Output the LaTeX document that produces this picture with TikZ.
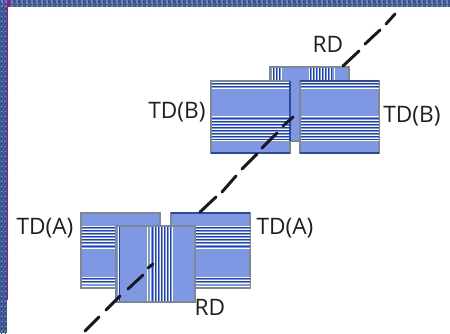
\documentclass[tikz,border=0pt]{standalone}
\usepackage{fontspec}
\setmainfont{Open Sans}
\definecolor{plate}{HTML}{7F98E4}
\definecolor{edgegray}{HTML}{7F8790}
\definecolor{edgeblue}{HTML}{2F4A9A}
\definecolor{stripeblue}{HTML}{1A3AD0}
\definecolor{tilebase}{HTML}{3F5C98}
\definecolor{tiledark}{HTML}{1F3566}
\definecolor{tilelight}{HTML}{6C84B4}
\definecolor{seam}{HTML}{A0109A}
\tikzset{
  x=0.75pt,y=-0.75pt,
  plate/.style={fill=plate,draw=edgegray,line width=0.8pt},
  rim/.style={draw=edgeblue,line width=0.8pt},
  tag/.style={font=\fontsize{17}{20}\selectfont,inner sep=0pt,text=black!88},
  axisdash/.style={line width=2.2pt,black!90,line cap=round},
}
% horizontal lines across a plate: #1 x-from, #2 x-to, #3 blue rows, #4 white rows
\newcommand{\hrows}[4]{%
  \foreach \r in {#4}{\fill[white] (#1,\r) rectangle (#2,\r+0.9);}
  \foreach \r in {#3}{\fill[stripeblue] (#1,\r) rectangle (#2,\r+1.2);}
}
% vertical lines across a plate: #1 y-from, #2 y-to, #3 blue columns, #4 white columns
\newcommand{\vrows}[4]{%
  \foreach \c in {#4}{\fill[white] (\c,#1) rectangle (\c+0.9,#2);}
  \foreach \c in {#3}{\fill[stripeblue] (\c,#1) rectangle (\c+1.2,#2);}
}
\begin{document}
\begin{tikzpicture}
\useasboundingbox (0,0) rectangle (450,333);
\fill[white] (0,0) rectangle (450,333);

% woven border along the top and left sides
\fill[tilebase] (0,0) rectangle (450,7);
\fill[tilebase] (0,0) rectangle (7,333);
\foreach \i in {0,...,89}{
  \fill[tilelight] (\i*5+1,0) rectangle (\i*5+3,7);
  \fill[tiledark] (\i*5+3,1) rectangle (\i*5+4,2);
  \fill[tiledark] (\i*5+1,4) rectangle (\i*5+2,5);
}
\foreach \i in {0,...,66}{
  \fill[tilelight] (1,\i*5+1) rectangle (6,\i*5+2);
  \fill[tiledark] (3,\i*5+1) rectangle (4,\i*5+2);
  \fill[tiledark] (1,\i*5+3) rectangle (2,\i*5+4);
  \fill[tiledark] (5,\i*5+3) rectangle (6,\i*5+4);
}
\fill[seam] (7,0) rectangle (10,7);
\fill[seam] (7,7) rectangle (8,300);

% upper pair: read-out plate behind two transfer plates
\draw[plate] (270,67) rectangle (349,141);
\vrows{68}{81}{273,276,279,310,313,316,319,322,325,328,331}{272,275,278,281,309,312,315,318,321,324,327,330,334}
\draw[plate] (211,81) rectangle (290,153);
\hrows{212}{290}{83,86,118,121,124,127,130,133,136,139}{82,85,88,116,120,123,126,129,132,135,138,140}
\draw[rim] (211,153) -- (290,153) (290,81) -- (290,141);
\draw[plate] (300,81) rectangle (379,153);
\hrows{301}{379}{83,86,118,121,124,127,130,133,136,139}{82,85,88,116,120,123,126,129,132,135,138,140}
\draw[rim] (300,153) -- (379,153) (300,81) -- (379,81);

% lower pair: two transfer plates behind the read-out plate
\draw[plate] (81,213) rectangle (160,288);
\hrows{82}{160}{227,230,233,236,239,242,246,278,281}{226,229,232,235,238,241,244,248,277,280,283,286}
\draw[plate] (171,213) rectangle (250,288);
\hrows{172}{250}{227,230,233,236,239,242,246,278,281}{226,229,232,235,238,241,244,248,277,280,283,286}
\draw[rim] (171,213) -- (250,213);
\draw[plate] (116,226) rectangle (195,302);
\vrows{227}{301}{119,152,155,158,161,164,167,170}{118,147,150,154,157,160,163,166,169,172}

% dashed axis through both pairs
\foreach \ax/\ay/\bx/\by in {85/331/99/317,106/310/120/296,128/289/143/275,148/268/153/264,
  200/212/216/197,222/192/236/176,242/169/257/154,262/148/277/133,283/126/293/117,
  343/66/359/51,365/44/380/30,386/24/395/14}{
  \coordinate (p) at (\ax,\ay);
  \coordinate (q) at (\bx,\by);
  \draw[axisdash] (p) -- (q);
}

% plate labels
\node[tag] (rdb) at (328,44) {RD};
\node[tag] (tdbl) at (177,112) {TD(B)};
\node[tag] (tdbr) at (412,116) {TD(B)};
\node[tag] (tdal) at (45,228) {TD(A)};
\node[tag] (tdar) at (285,228) {TD(A)};
\node[tag] (rda) at (210,307) {RD};
\end{tikzpicture}
\end{document}
